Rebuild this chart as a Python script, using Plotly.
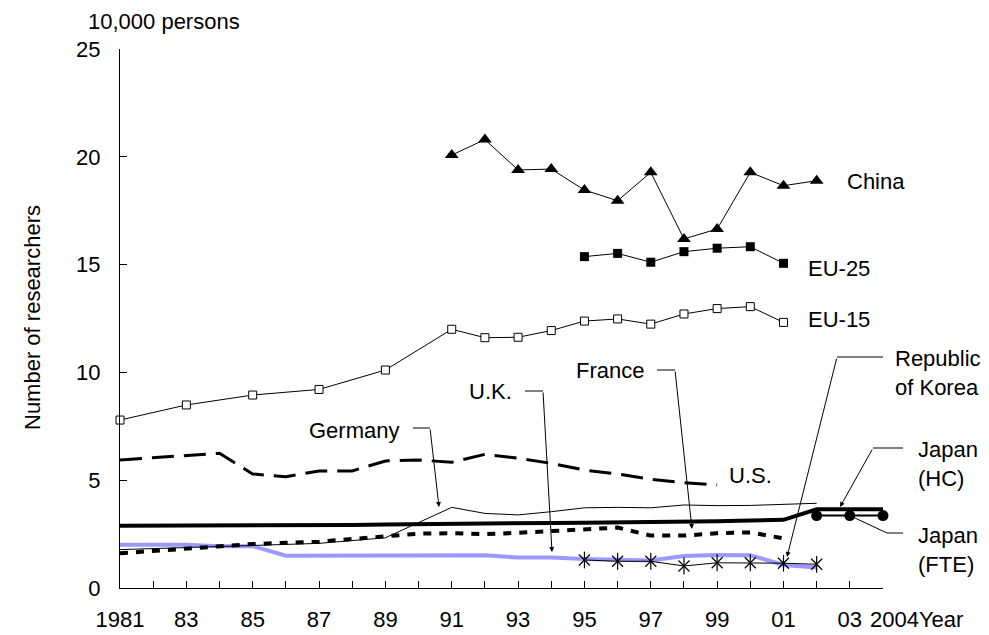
import plotly.graph_objects as go

# data (unit: 10,000 persons)
china_years = list(range(1991, 2003))
china_vals = [20.08, 20.8, 19.39, 19.43, 18.46, 17.96, 19.28, 16.19, 16.65, 19.28, 18.66, 18.89]

eu25_years = list(range(1995, 2002))
eu25_vals = [15.37, 15.52, 15.11, 15.6, 15.76, 15.83, 15.06]

eu15_years = [1981, 1983, 1985, 1987, 1989] + list(range(1991, 2002))
eu15_vals = [7.79, 8.49, 8.95, 9.21, 10.11, 12.0, 11.61, 11.63, 11.94, 12.38, 12.48, 12.24, 12.71, 12.96, 13.05, 12.32]

us_years = list(range(1981, 2000))
us_vals = [5.94, 6.04, 6.14, 6.25, 5.29, 5.16, 5.43, 5.43, 5.89, 5.94, 5.83, 6.2, 6.02, 5.78, 5.47, 5.29, 5.04, 4.88, 4.78]

japan_hc_years = list(range(1981, 2005))
japan_hc_vals = [2.89, 2.89, 2.89, 2.89, 2.89, 2.9, 2.91, 2.92, 2.95, 2.97, 3.0, 3.0, 3.01, 3.02, 3.03, 3.04, 3.05, 3.06, 3.1, 3.13, 3.16, 3.65, 3.65, 3.65]

japan_fte_years = [2002, 2003, 2004]
japan_fte_vals = [3.36, 3.36, 3.36]

germany_years = [1981, 1983, 1985, 1987, 1989] + list(range(1991, 2003))
germany_vals = [1.78, 1.87, 1.96, 2.07, 2.33, 3.74, 3.46, 3.39, 3.54, 3.72, 3.74, 3.72, 3.85, 3.82, 3.83, 3.87, 3.93]

france_years = [1981, 1983, 1985, 1987, 1989] + list(range(1990, 2002))
france_vals = [1.61, 1.84, 2.04, 2.15, 2.41, 2.52, 2.54, 2.5, 2.56, 2.64, 2.74, 2.8, 2.43, 2.43, 2.54, 2.58, 2.3]

uk_years = list(range(1981, 2003))
uk_vals = [2.01, 2.01, 2.01, 1.94, 1.94, 1.5, 1.5, 1.5, 1.5, 1.5, 1.52, 1.52, 1.41, 1.41, 1.35, 1.3, 1.28, 1.48, 1.53, 1.52, 1.07, 0.95]

korea_years = list(range(1995, 2003))
korea_vals = [1.3, 1.24, 1.24, 1.02, 1.17, 1.17, 1.15, 1.1]

tick_years = list(range(1981, 2005))
tick_text = ['1981', '', '83', '', '85', '', '87', '', '89', '', '91', '', '93', '', '95', '', '97', '', '99', '', '01', '', '03', '']

FONT = 'Liberation Sans, Arial, sans-serif'
FS = 22

# plot area in pixels: x 120..883, y 49..588
L, R, T, B = 120, 883, 49, 588
W, H = 989, 635


def pp(x, y):
    # pixel -> paper
    return (x - L) / (R - L), (B - y) / (B - T)


fig = go.Figure()

fig.add_trace(go.Scatter(x=uk_years, y=uk_vals, mode='lines',
                         line=dict(color='#9999FF', width=4)))
fig.add_trace(go.Scatter(x=us_years, y=us_vals, mode='lines',
                         line=dict(color='black', width=3, dash='22px,10px')))
fig.add_trace(go.Scatter(x=france_years, y=france_vals, mode='lines',
                         line=dict(color='black', width=4, dash='8px,8px')))
fig.add_trace(go.Scatter(x=germany_years, y=germany_vals, mode='lines',
                         line=dict(color='black', width=1)))
fig.add_trace(go.Scatter(x=japan_hc_years, y=japan_hc_vals, mode='lines', cliponaxis=False,
                         line=dict(color='black', width=4)))
fig.add_trace(go.Scatter(x=japan_fte_years, y=japan_fte_vals, mode='lines+markers', cliponaxis=False,
                         line=dict(color='black', width=2),
                         marker=dict(symbol='circle', size=11, color='black')))
fig.add_trace(go.Scatter(x=korea_years, y=korea_vals, mode='lines+markers',
                         line=dict(color='black', width=1),
                         marker=dict(symbol='x-thin-open', size=11, color='black',
                                     line=dict(color='black', width=1.2))))
fig.add_trace(go.Scatter(x=korea_years, y=korea_vals, mode='markers',
                         marker=dict(symbol='line-ns-open', size=12, color='black',
                                     line=dict(color='black', width=1.2))))
fig.add_trace(go.Scatter(x=eu15_years, y=eu15_vals, mode='lines+markers', cliponaxis=False,
                         line=dict(color='black', width=1),
                         marker=dict(symbol='square', size=8, color='white',
                                     line=dict(color='black', width=1))))
fig.add_trace(go.Scatter(x=eu25_years, y=eu25_vals, mode='lines+markers',
                         line=dict(color='black', width=1),
                         marker=dict(symbol='square', size=9, color='black')))
fig.add_trace(go.Scatter(x=china_years, y=china_vals, mode='lines+markers',
                         line=dict(color='black', width=1),
                         marker=dict(symbol='triangle-up', size=12, color='black')))

ann = []


def label(text, px, py, anchor='left'):
    x, y = pp(px, py)
    ann.append(dict(text=text, x=x, y=y, xref='paper', yref='paper', showarrow=False,
                    xanchor=anchor, yanchor='middle', align='left',
                    font=dict(family=FONT, size=FS, color='black')))


label('China', 845, 181)
label('EU-25', 806, 268)
label('EU-15', 806, 319)
label('U.S.', 727, 476)
label('Germany', 354, 430, 'center')
label('U.K.', 490, 391, 'center')
label('France', 610, 370, 'center')
label('Republic<br>of Korea', 893, 373)
label('Japan<br>(HC)', 916, 464)
label('Japan<br>(FTE)', 916, 550)
label('10,000 persons', 86, 22)
label('2004Year', 868, 619)

ytitle_x, ytitle_y = pp(32, 318)
ann.append(dict(text='Number of researchers', x=ytitle_x, y=ytitle_y, xref='paper', yref='paper',
                showarrow=False, textangle=-90, xanchor='center', yanchor='middle',
                font=dict(family=FONT, size=FS, color='black')))


def arrow(tail, tip):
    x, y = pp(*tip)
    ann.append(dict(text='', x=x, y=y, xref='paper', yref='paper', showarrow=True,
                    ax=tail[0] - tip[0], ay=tail[1] - tip[1], axref='pixel', ayref='pixel',
                    arrowhead=2, arrowsize=1, arrowwidth=1, arrowcolor='black'))


shapes = []


def seg(p1, p2):
    x0, y0 = pp(*p1)
    x1, y1 = pp(*p2)
    shapes.append(dict(type='line', xref='paper', yref='paper', x0=x0, y0=y0, x1=x1, y1=y1,
                       line=dict(color='black', width=1)))


# leader lines
seg((413, 428), (430, 428))
arrow((430, 428), (439, 507))
seg((525, 391), (543, 391))
arrow((543, 391), (552, 552))
seg((657, 370), (675, 370))
arrow((675, 370), (692, 529))
seg((883, 357), (837, 357))
arrow((837, 357), (787, 557))
seg((903, 448), (873, 448))
arrow((873, 448), (840, 507))
seg((855, 518), (887, 533))
seg((887, 533), (903, 533))

fig.update_layout(
    width=W, height=H,
    margin=dict(l=L, r=W - R, t=T, b=H - B),
    paper_bgcolor='white', plot_bgcolor='white',
    showlegend=False,
    font=dict(family=FONT, size=FS, color='black'),
    annotations=ann,
    shapes=shapes,
)
fig.update_xaxes(range=[1981, 2004], tickvals=tick_years, ticktext=tick_text, automargin=False,
                 showgrid=False, zeroline=False, showline=True, linecolor='black', linewidth=1,
                 ticks='inside', ticklen=7, tickcolor='black', ticklabelstandoff=12)
fig.update_yaxes(range=[0, 25], dtick=5, showgrid=False, zeroline=False, automargin=False,
                 showline=True, linecolor='black', linewidth=1,
                 ticks='inside', ticklen=7, tickcolor='black', ticklabelstandoff=14)

# drop the default 8px body margin so the figure sits at the window's corner
fig.write_html("out.html", config={'displayModeBar': False},
               post_script="document.body.style.margin='0px';")
